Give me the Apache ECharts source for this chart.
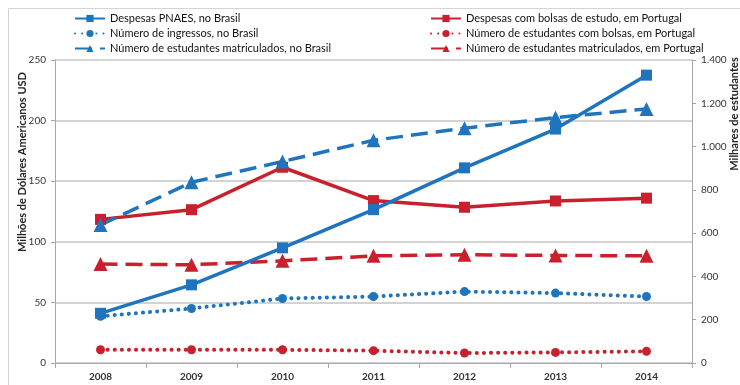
<!DOCTYPE html>
<html>
<head>
<meta charset="utf-8">
<script src="https://cdn.jsdelivr.net/npm/echarts@6/dist/echarts.min.js"></script>
<style>html,body{margin:0;padding:0;background:#fff}#c{width:740px;height:385px}</style>
</head>
<body>
<div id="c"></div>
<script>
const years = ['2008', '2009', '2010', '2011', '2012', '2013', '2014'];
const pnaesBrasil = [41, 64.5, 95, 126.5, 161, 193, 237.5];
const ingressosBrasil = [216, 252, 298, 307, 330, 323, 307];
const matriculadosBrasil = [638, 835, 931, 1029, 1085, 1134, 1174];
const bolsasPortugal = [118.5, 126.5, 161.5, 134, 128.5, 133.7, 136];
const bolsistasPortugal = [61, 61, 61, 57, 46, 49, 54];
const matriculadosPortugal = [457, 454, 472, 495, 500, 497, 495];

const blue = '#1f74be';
const red = '#c8202d';
const font = 'Lato';

function mk(name, data, color, yIdx, kind) {
  const s = {
    name, type: 'line', data, yAxisIndex: yIdx,
    itemStyle: { color },
    lineStyle: { color, width: 3.5 },
    emphasis: { disabled: true },
    animation: false
  };
  if (kind === 'solid') { s.symbol = 'rect'; s.symbolSize = 11; }
  if (kind === 'dash') { s.symbol = 'triangle'; s.symbolSize = 14; s.lineStyle.type = [17, 8]; }
  if (kind === 'dot') { s.symbol = 'circle'; s.symbolSize = 9; s.lineStyle.type = [0.1, 7]; s.lineStyle.cap = 'round'; s.lineStyle.width = 4; }
  return s;
}

const chart = echarts.init(document.getElementById('c'));
chart.setOption({
  animation: false,
  textStyle: { fontFamily: font },
  grid: { left: 55, right: 48, top: 60, bottom: 22, containLabel: false },
  legend: [
    {
      left: 74, top: 13, padding: 0, orient: 'vertical', itemGap: 4, itemWidth: 30, itemHeight: 9,
      textStyle: { fontSize: 11, color: '#111', fontFamily: font },
      data: ['Despesas PNAES, no Brasil', 'Número de ingressos, no Brasil', 'Número de estudantes matriculados, no Brasil']
    },
    {
      left: 430, top: 13, padding: 0, orient: 'vertical', itemGap: 4, itemWidth: 30, itemHeight: 9,
      textStyle: { fontSize: 11, color: '#111', fontFamily: font },
      data: ['Despesas com bolsas de estudo, em Portugal', 'Número de estudantes com bolsas, em Portugal', 'Número de estudantes matriculados, em Portugal']
    }
  ],
  xAxis: {
    type: 'category', data: years, boundaryGap: true,
    axisLine: { lineStyle: { color: '#a6a6a6', width: 1 } },
    axisTick: { show: true, inside: false, length: 5, lineStyle: { color: '#a6a6a6' } },
    axisLabel: { fontSize: 10, color: '#333', fontWeight: 'bold', margin: 9 }
  },
  yAxis: [
    {
      type: 'value', min: 0, max: 250, interval: 50,
      axisLine: { show: true, lineStyle: { color: '#a6a6a6' } },
      axisTick: { show: true, length: 4, lineStyle: { color: '#a6a6a6' } },
      axisLabel: { fontSize: 10, color: '#333', margin: 9 },
      splitLine: { show: true, lineStyle: { color: '#c4c4c4', width: 1.5 } }
    },
    {
      type: 'value', min: 0, max: 1400, interval: 200,
      axisLine: { show: true, lineStyle: { color: '#a6a6a6' } },
      axisTick: { show: true, length: 4, lineStyle: { color: '#a6a6a6' } },
      axisLabel: { fontSize: 10, color: '#333', margin: 9,
        formatter: v => v >= 1000 ? Math.floor(v / 1000) + '.' + String(v % 1000).padStart(3, '0') : String(v) },
      splitLine: { show: false }
    }
  ],
  graphic: [
    { type: 'rect', shape: { x: 8.5, y: 8.5, width: 900, height: 900 }, style: { fill: 'none', stroke: '#d4d4d4', lineWidth: 1 }, silent: true, z: -10 },
    { type: 'text', x: 22, y: 162, rotation: Math.PI / 2,
      style: { text: 'Milhões de Dólares Americanos USD', fontSize: 11, fontWeight: 'bold', fill: '#222', fontFamily: font, align: 'center', verticalAlign: 'middle' } },
    { type: 'text', x: 734, y: 114, rotation: Math.PI / 2,
      style: { text: 'Milhares de estudantes', fontSize: 11, fontWeight: 'bold', fill: '#222', fontFamily: font, align: 'center', verticalAlign: 'middle' } }
  ],
  series: [
    mk('Número de estudantes com bolsas, em Portugal', bolsistasPortugal, red, 1, 'dot'),
    mk('Número de ingressos, no Brasil', ingressosBrasil, blue, 1, 'dot'),
    mk('Número de estudantes matriculados, em Portugal', matriculadosPortugal, red, 1, 'dash'),
    mk('Despesas com bolsas de estudo, em Portugal', bolsasPortugal, red, 0, 'solid'),
    mk('Número de estudantes matriculados, no Brasil', matriculadosBrasil, blue, 1, 'dash'),
    mk('Despesas PNAES, no Brasil', pnaesBrasil, blue, 0, 'solid')
  ]
});
</script>
</body>
</html>
